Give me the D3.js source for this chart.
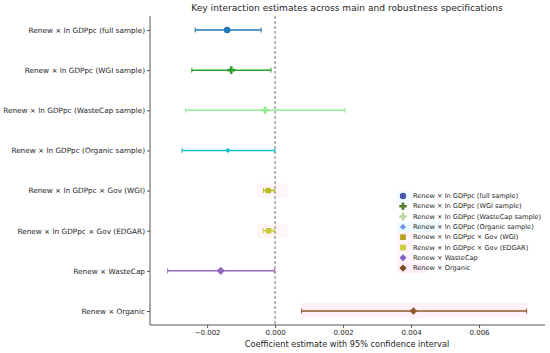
<!DOCTYPE html>
<html>
<head>
<meta charset="utf-8">
<script src="https://cdn.jsdelivr.net/npm/d3@7"></script>
<style>
  body { margin: 0; background: #fff; }
  text { font-family: "DejaVu Sans", sans-serif; fill: #262626; }
</style>
</head>
<body>
<svg id="chart" width="550" height="353"></svg>
<script>
// estimates
const terms = [
  "Renew × ln GDPpc (full sample)",
  "Renew × ln GDPpc (WGI sample)",
  "Renew × ln GDPpc (WasteCap sample)",
  "Renew × ln GDPpc (Organic sample)",
  "Renew × ln GDPpc × Gov (WGI)",
  "Renew × ln GDPpc × Gov (EDGAR)",
  "Renew × WasteCap",
  "Renew × Organic"
];
const estimate = [-0.00141, -0.00129, -0.00029, -0.00139, -0.00020, -0.00019, -0.00160, 0.00407];
const ciLow    = [-0.00235, -0.00245, -0.00263, -0.00274, -0.00034, -0.00035, -0.00316, 0.00078];
const ciHigh   = [-0.00041, -0.00012, 0.00206, -0.00001, -0.00002, -0.00002, -0.00002, 0.00740];
const xTicks = [-0.002, 0, 0.002, 0.004, 0.006];

const lineColors   = ["#1f77b4", "#2ca02c", "#90ee90", "#17becf", "#bcbd22", "#c9c832", "#9467bd", "#8b5a2b"];
const legendColors = ["#4a56ad", "#4e7d2b", "#b5d69c", "#6f9bdc", "#b3a01c", "#cbcb3c", "#845fc4", "#7b4a1e"];
const shapes = [d3.symbolCircle, d3.symbolCross, d3.symbolCross, d3.symbolDiamond2,
                d3.symbolSquare, d3.symbolSquare, d3.symbolDiamond2, d3.symbolDiamond2];
const sizes = [34, 34, 30, 18, 30, 30, 44, 36];

const svg = d3.select("#chart");
const margin = { left: 150, right: 5, top: 16, bottom: 28 };
const W = 550, H = 353;

const x = d3.scaleLinear().domain([-0.00368, 0.00794]).range([margin.left, W - margin.right]);
const y = d3.scalePoint().domain(terms).range([30, 311]);

const rows = terms.map((t, i) => ({ t, i, est: estimate[i], lo: ciLow[i], hi: ciHigh[i] }));

// faint highlight bands
const bands = svg.append("g");
[4, 5].forEach(i => {
  bands.append("rect")
    .attr("x", x(-0.00053)).attr("width", x(0.00036) - x(-0.00053))
    .attr("y", y(terms[i]) - 7).attr("height", 14)
    .attr("fill", "#fff6fa");
});
bands.append("rect")
  .attr("x", x(ciLow[7])).attr("width", x(ciHigh[7]) - x(ciLow[7]))
  .attr("y", y(terms[7]) - 8).attr("height", 15)
  .attr("fill", "#fff0f9");

// zero reference line
svg.append("line")
  .attr("x1", x(0)).attr("x2", x(0))
  .attr("y1", margin.top).attr("y2", H - margin.bottom)
  .attr("stroke", "#777").attr("stroke-width", 1)
  .attr("stroke-dasharray", "3,2");

// error bars
const g = svg.append("g");
const row = g.selectAll("g.row").data(rows).join("g").attr("class", "row")
  .attr("transform", d => "translate(0," + y(d.t) + ")");
row.append("line")
  .attr("x1", d => x(d.lo)).attr("x2", d => x(d.hi))
  .attr("stroke", d => lineColors[d.i]).attr("stroke-width", 1.5);
row.selectAll("line.cap").data(d => [d.lo, d.hi].map(v => ({ v, i: d.i }))).join("line")
  .attr("class", "cap")
  .attr("x1", c => x(c.v)).attr("x2", c => x(c.v))
  .attr("y1", -2.5).attr("y2", 2.5)
  .attr("stroke", c => lineColors[c.i]).attr("stroke-width", 1);
row.append("path")
  .attr("d", d => d3.symbol(shapes[d.i], sizes[d.i])())
  .attr("transform", d => "translate(" + x(d.est) + ",0)")
  .attr("fill", d => lineColors[d.i]);

// axes
const xAxis = svg.append("g")
  .attr("transform", "translate(0," + (H - margin.bottom) + ")")
  .call(d3.axisBottom(x).tickValues(xTicks).tickSize(3).tickPadding(2)
    .tickFormat(d => d3.format(".3f")(d).replace("-", "\u2212")));
const yAxis = svg.append("g")
  .attr("transform", "translate(" + margin.left + ",0)")
  .call(d3.axisLeft(y).tickSize(3).tickPadding(2));
[xAxis, yAxis].forEach(a => {
  a.select(".domain").attr("stroke", "#555").attr("stroke-width", 1);
  a.selectAll(".tick line").attr("stroke", "#555");
  a.selectAll("text").style("font-family", "DejaVu Sans").attr("fill", "#262626");
});
xAxis.select(".domain").attr("d", "M" + margin.left + ",0H" + (W - margin.right));
yAxis.select(".domain").attr("d", "M0," + margin.top + "V" + (H - margin.bottom));
xAxis.selectAll("text").style("font-size", "7px");
yAxis.selectAll("text").style("font-size", "7.3px");

// title and axis label
svg.append("text")
  .attr("x", 347).attr("y", 11)
  .attr("text-anchor", "middle")
  .style("font-size", "9.1px")
  .text("Key interaction estimates across main and robustness specifications");
svg.append("text")
  .attr("x", 347).attr("y", 347)
  .attr("text-anchor", "middle")
  .style("font-size", "8.2px")
  .text("Coefficient estimate with 95% confidence interval");

// legend
const legend = svg.append("g").attr("transform", "translate(403,196)");
const lgPatch = ["#eefcff", null, null, "#eefcff", "#fff4f9", "#fff4f9", "#fff4f9", "#ffeef8"];
const item = legend.selectAll("g").data(terms).join("g")
  .attr("transform", (d, i) => "translate(0," + i * 10.3 + ")");
item.append("rect")
  .attr("x", -6).attr("y", -5).attr("height", 10)
  .attr("width", (d, i) => i === 3 ? 44 : i === 7 ? 30 : 16)
  .attr("fill", (d, i) => lgPatch[i] || "none");
item.append("path")
  .attr("d", (d, i) => d3.symbol(shapes[i], i === 3 ? 24 : 32)())
  .attr("fill", (d, i) => legendColors[i]);
item.append("text")
  .attr("x", 10).attr("dy", "0.33em")
  .style("font-size", "6.6px")
  .text(d => d);
</script>
</body>
</html>
